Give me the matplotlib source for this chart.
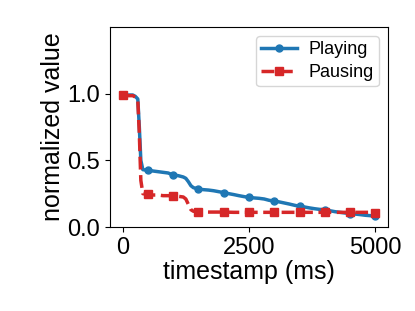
import matplotlib
matplotlib.use("Agg")
import matplotlib.pyplot as plt

plt.rcParams["font.family"] = ["Liberation Sans", "DejaVu Sans"]

# timestamps in ms
timestamps = [0, 100, 200, 250, 300, 330, 360, 400, 500, 600, 700, 800, 900, 1000,
              1100, 1200, 1250, 1300, 1350, 1400, 1500, 1600, 1700, 1800, 1900,
              2000, 2100, 2200, 2300, 2400, 2500, 2600, 2700, 2800, 2900, 3000,
              3100, 3200, 3300, 3400, 3500, 3600, 3700, 3800, 3900, 4000, 4100,
              4200, 4300, 4400, 4500, 4600, 4700, 4800, 4900, 5000]
playing = [0.99, 0.99, 0.99, 0.98, 0.96, 0.75, 0.50, 0.43, 0.425, 0.42, 0.415, 0.41,
           0.405, 0.39, 0.385, 0.375, 0.365, 0.34, 0.31, 0.295, 0.285, 0.28, 0.277,
           0.272, 0.265, 0.258, 0.25, 0.243, 0.235, 0.228, 0.222, 0.218, 0.215,
           0.21, 0.2, 0.195, 0.188, 0.18, 0.172, 0.163, 0.155, 0.15, 0.143, 0.137,
           0.132, 0.13, 0.122, 0.115, 0.11, 0.105, 0.1, 0.097, 0.093, 0.088, 0.085,
           0.08]
pausing = [0.99, 0.985, 0.985, 0.975, 0.95, 0.70, 0.35, 0.25, 0.245, 0.24, 0.24, 0.235,
           0.235, 0.232, 0.23, 0.225, 0.21, 0.17, 0.13, 0.118, 0.115, 0.113, 0.112,
           0.112, 0.112, 0.112, 0.111, 0.11, 0.11, 0.11, 0.11, 0.11, 0.11, 0.11,
           0.11, 0.11, 0.11, 0.11, 0.11, 0.11, 0.11, 0.11, 0.11, 0.11, 0.11, 0.11,
           0.11, 0.11, 0.11, 0.11, 0.11, 0.11, 0.11, 0.11, 0.11, 0.108]

# a marker every 500 ms
marks = [i for i, t in enumerate(timestamps) if t % 500 == 0]

fig = plt.figure(figsize=(4.15, 3.11), dpi=100)
ax = fig.add_axes([110 / 415, 1 - 227 / 311, 278 / 415, 200 / 311])

ax.plot(timestamps, playing, color="#1f77b4", linewidth=2.5, marker="o",
        markersize=5, markevery=marks, label="Playing")
ax.plot(timestamps, pausing, color="#d62728", linewidth=2.5, linestyle="--",
        marker="s", markersize=5.5, markevery=marks, label="Pausing")

ax.set_xlim(-250, 5250)
ax.set_ylim(0, 1.5)
ax.set_xticks([0, 2500, 5000])
ax.set_yticks([0.0, 0.5, 1.0])
ax.tick_params(labelsize=17)
ax.set_xlabel("timestamp (ms)", fontsize=18, labelpad=1)
ax.set_ylabel("normalized value", fontsize=18, labelpad=2)
ax.legend(loc="upper right", fontsize=13, borderaxespad=0.5,
          labelspacing=0.3, borderpad=0.3, handletextpad=0.6)

fig.savefig("out.png", dpi=100)
